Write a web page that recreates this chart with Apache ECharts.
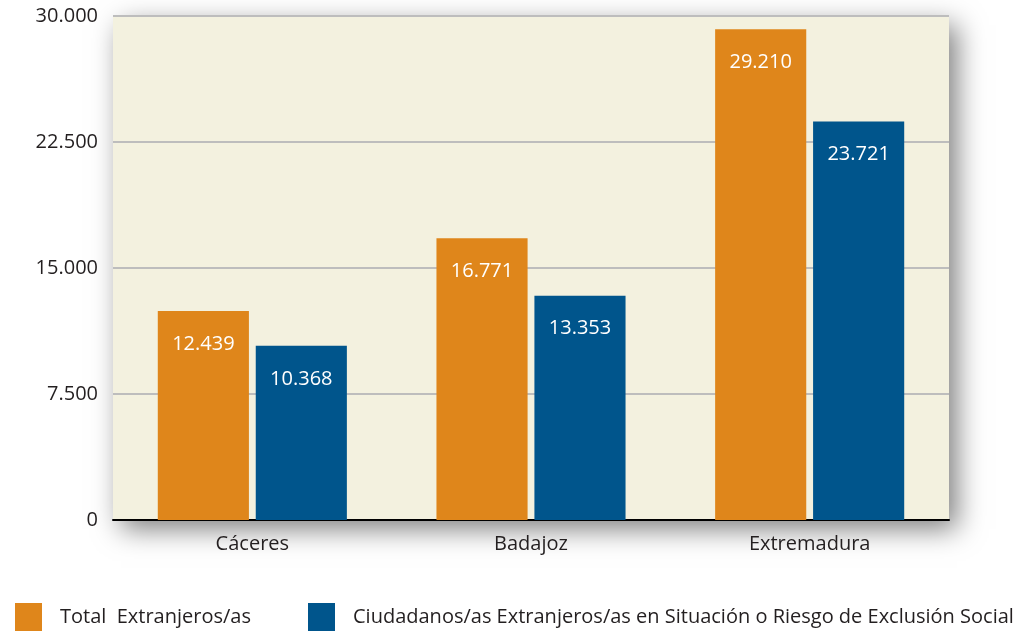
<!DOCTYPE html>
<html>
<head>
<meta charset="utf-8">
<script src="https://cdn.jsdelivr.net/npm/echarts@6/dist/echarts.min.js"></script>
<style>
  html, body { margin: 0; padding: 0; background: #fff; }
  #chart { width: 1016px; height: 631px; }
</style>
</head>
<body>
<div id="chart"></div>
<script>
const categories = ['Cáceres', 'Badajoz', 'Extremadura']
const totalValues = [12439, 16771, 29210]
const riskValues = [10368, 13353, 23721]
const seriesNames = [
  'Total  Extranjeros/as',
  'Ciudadanos/as Extranjeros/as en Situación o Riesgo de Exclusión Social',
]
const yTicks = [0, 7500, 15000, 22500, 30000]

const FONT = '"Open Sans", sans-serif'

// formato español: punto como separador de miles
const fmt = (v) => String(v).replace(/\B(?=(\d{3})+(?!\d))/g, '.')

const chart = echarts.init(document.getElementById('chart'))

const barLabel = {
  show: true,
  position: 'insideTop',
  distance: 23,
  color: '#fff',
  fontFamily: FONT,
  fontSize: 20,
  formatter: (p) => fmt(p.value),
}

const legendText = { fontFamily: FONT, fontSize: 20, color: '#231f20', padding: [0, 0, 0, 13] }

chart.setOption({
  animation: false,
  grid: {
    left: 113, right: 67, top: 16, bottom: 111,
    show: true,
    backgroundColor: '#f3f1df',
    borderWidth: 0,
    shadowColor: 'rgba(0,0,0,0.5)',
    shadowBlur: 26,
    shadowOffsetX: 8,
    shadowOffsetY: 9,
  },
  legend: [
    {
      data: [seriesNames[0]],
      left: 10, top: 598,
      itemWidth: 27, itemHeight: 28,
      icon: 'rect',
      textStyle: legendText,
    },
    {
      data: [seriesNames[1]],
      left: 303, top: 598,
      itemWidth: 27, itemHeight: 28,
      icon: 'rect',
      textStyle: legendText,
    },
  ],
  xAxis: {
    type: 'category',
    data: categories,
    axisLine: { lineStyle: { color: '#000', width: 2 } },
    axisTick: { show: false },
    axisLabel: { color: '#231f20', fontFamily: FONT, fontSize: 20, margin: 14 },
  },
  yAxis: {
    type: 'value',
    min: yTicks[0],
    max: yTicks[yTicks.length - 1],
    interval: 7500,
    axisLine: { show: false },
    axisTick: { show: false },
    axisLabel: { color: '#231f20', fontFamily: FONT, fontSize: 20, margin: 15, formatter: fmt },
    splitLine: { lineStyle: { color: '#bdbdbd', width: 2 } },
  },
  series: [
    {
      name: seriesNames[0],
      type: 'bar',
      data: totalValues,
      barWidth: '32.7%',
      barGap: '7.5%',
      itemStyle: { color: '#df861b' },
      label: barLabel,
    },
    {
      name: seriesNames[1],
      type: 'bar',
      data: riskValues,
      barWidth: '32.7%',
      itemStyle: { color: '#00558c' },
      label: barLabel,
    },
  ],
})
</script>
</body>
</html>
